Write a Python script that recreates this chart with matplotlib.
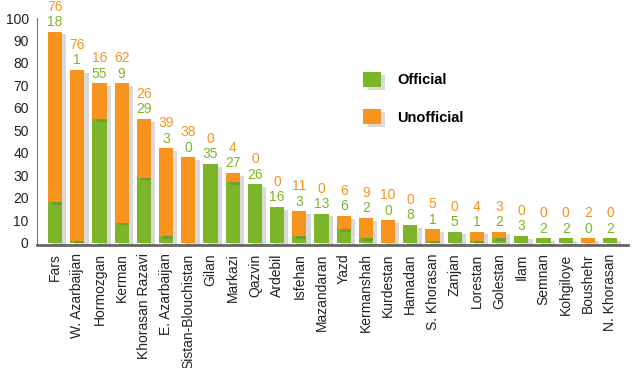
import numpy as np
import matplotlib
matplotlib.use("Agg")
import matplotlib.pyplot as plt
import matplotlib.patheffects as pe

provinces = ["Fars", "W. Azarbaijan", "Hormozgan", "Kerman", "Khorasan Razavi",
             "E. Azarbaijan", "Sistan-Blouchistan", "Gilan", "Markazi", "Qazvin",
             "Ardebil", "Isfehan", "Mazandaran", "Yazd", "Kermanshah", "Kurdestan",
             "Hamadan", "S. Khorasan", "Zanjan", "Lorestan", "Golestan", "Ilam",
             "Semnan", "Kohgiloye", "Boushehr", "N. Khorasan"]
official = [18, 1, 55, 9, 29, 3, 0, 35, 27, 26, 16, 3, 13, 6, 2, 0, 8, 1, 5, 1, 2, 3, 2, 2, 0, 2]
unofficial = [76, 76, 16, 62, 26, 39, 38, 0, 4, 0, 0, 11, 0, 6, 9, 10, 0, 5, 0, 4, 3, 0, 0, 0, 2, 0]

green = "#7db52a"
orange = "#f7941d"
plt.rcParams['font.family'] = ["Liberation Sans", "DejaVu Sans"]

fig = plt.figure(figsize=(6.39, 3.68), dpi=100)
ax = fig.add_axes([0.058, 0.334, 0.925, 0.617])

# spine position first: it resets the tick labels
for s in ["top", "right"]:
    ax.spines[s].set_visible(False)
ax.spines["left"].set_color("#777777")
ax.spines["bottom"].set_color("#666666")
ax.spines["bottom"].set_linewidth(2)
ax.spines["bottom"].set_position(("data", -1))

x = np.arange(len(provinces))
off = np.array(official)
unoff = np.array(unofficial)
shadow = [pe.SimplePatchShadow(offset=(3, -2), alpha=0.2, shadow_rgbFace="#444444"), pe.Normal()]
b1 = ax.bar(x, off, width=0.64, color=green, label="Official", zorder=3)
b2 = ax.bar(x, unoff, bottom=off, width=0.64, color=orange, label="Unofficial", zorder=3)
for bar_o, bar_u in zip(b1, b2):
    bar_o.set_path_effects(shadow)
    bar_u.set_path_effects(shadow)

for xi, o, u in zip(x, off, unoff):
    top = o + u
    ax.annotate(str(o), (xi, top), xytext=(0, 7), textcoords="offset points",
                ha="center", va="center", color=green, fontsize=10, annotation_clip=False)
    ax.annotate(str(u), (xi, top), xytext=(0, 18), textcoords="offset points",
                ha="center", va="center", color=orange, fontsize=10, annotation_clip=False)

ax.set_xlim(-0.81, len(provinces) - 0.19)
ax.set_ylim(-1, 100)
ax.set_yticks(range(0, 101, 10))
ax.set_xticks(x)
ax.set_xticklabels(provinces, rotation=90, fontsize=10)
ax.tick_params(axis="both", length=0, labelsize=10, colors="#222222")
ax.tick_params(axis="y", pad=6)
ax.tick_params(axis="x", pad=6, labelrotation=90)

ax.legend(loc="upper left", bbox_to_anchor=(0.53, 0.82), frameon=False,
          prop={"weight": "bold", "size": 10.5}, handlelength=1.2, handleheight=1.2,
          labelspacing=1.5, handletextpad=1.1)

fig.savefig("out.png")
plt.close()
